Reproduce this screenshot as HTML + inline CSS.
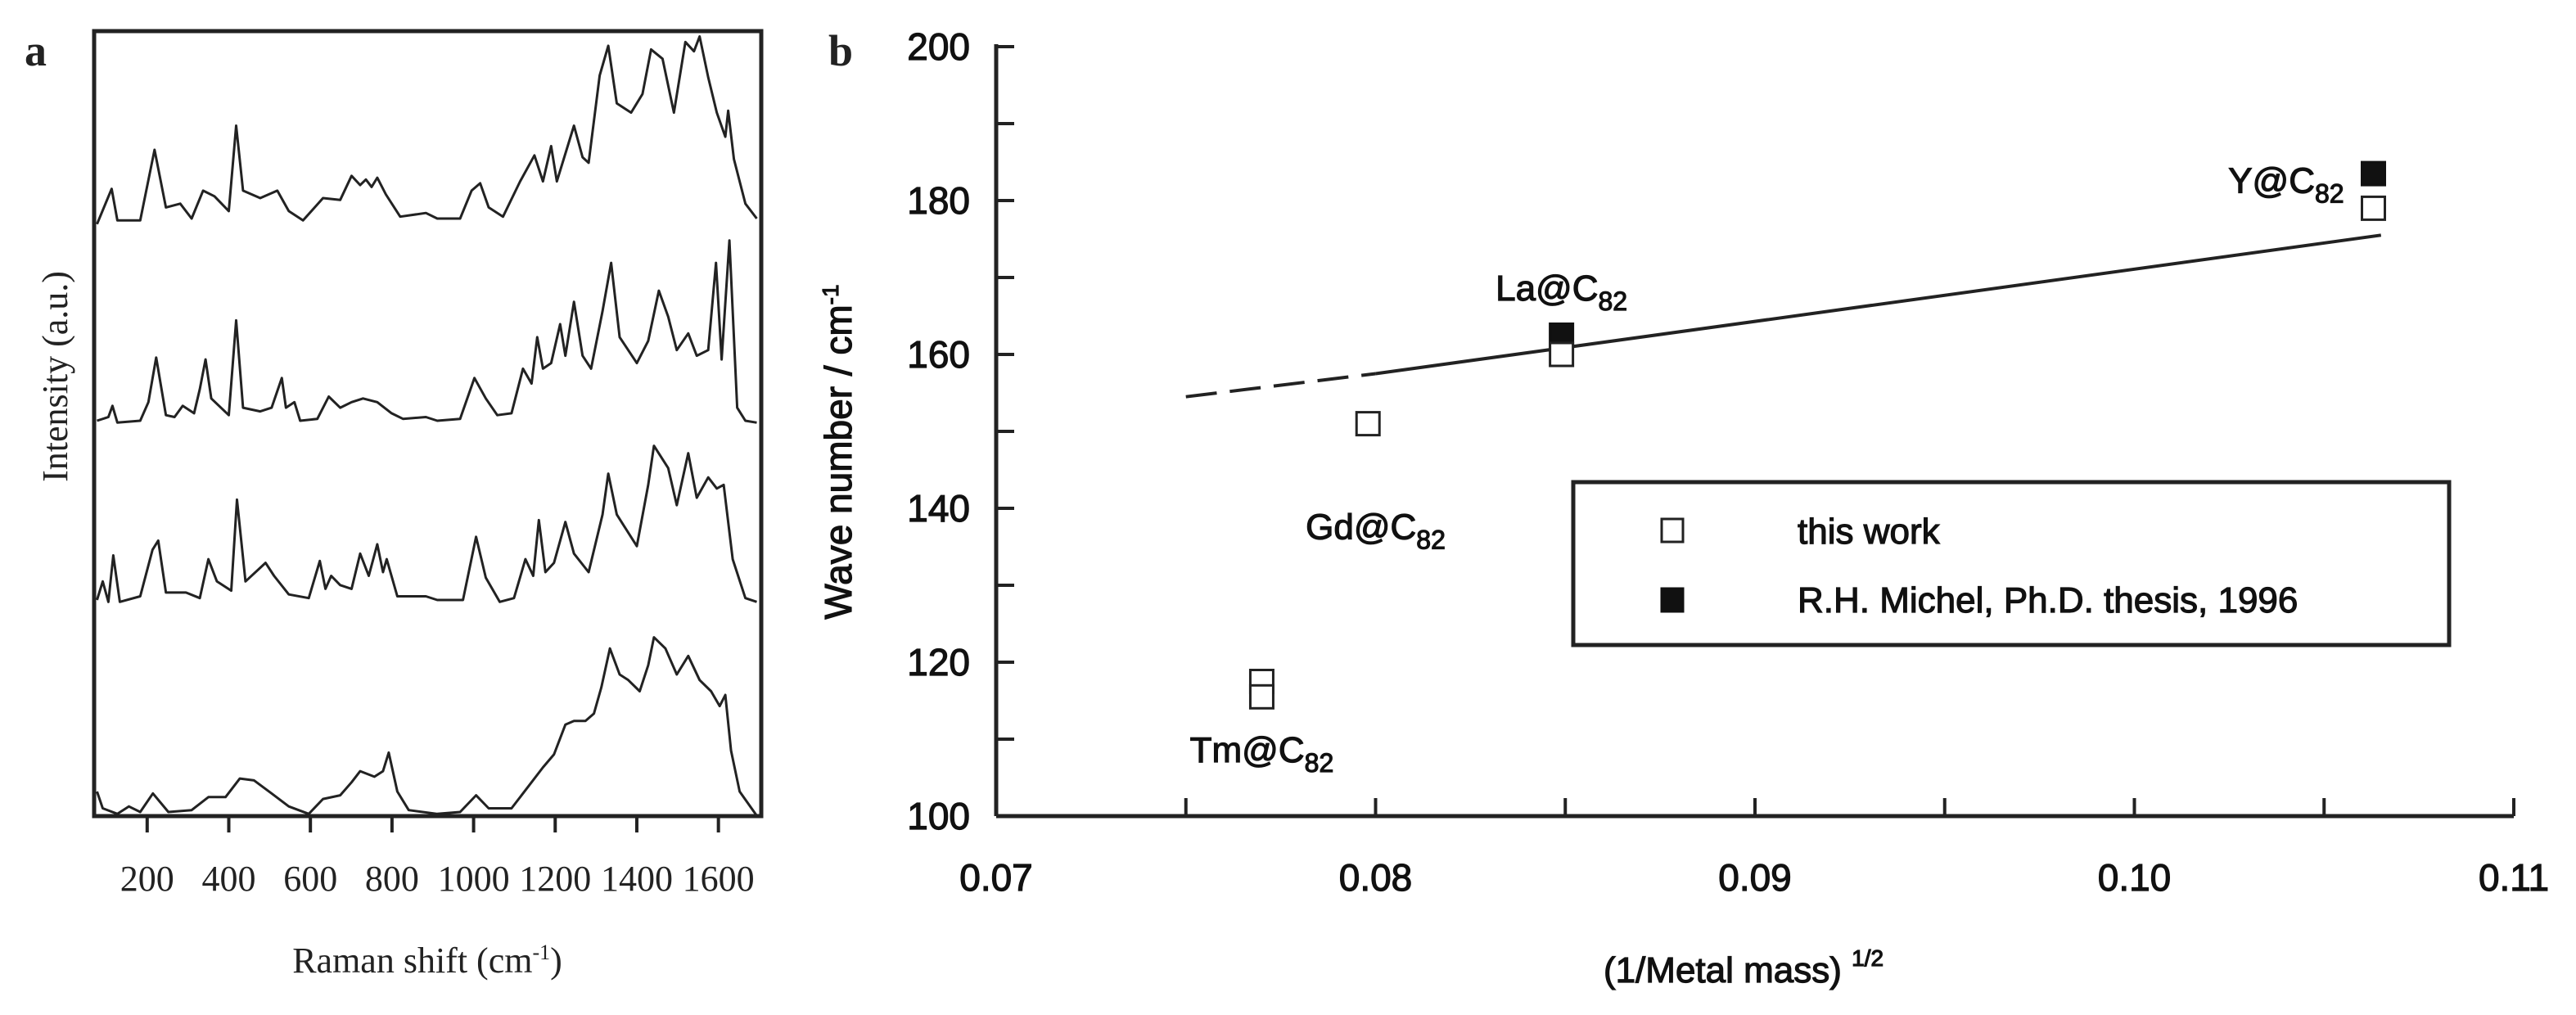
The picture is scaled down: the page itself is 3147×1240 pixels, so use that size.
<!DOCTYPE html>
<html><head><meta charset="utf-8">
<style>
html,body{margin:0;padding:0;background:#fff;}
svg{display:block;}
.serif{font-family:"Liberation Serif",serif;fill:#222;}
.sans{font-family:"Liberation Sans",sans-serif;fill:#111;stroke:#111;stroke-width:1.2px;}
</style></head>
<body>
<svg id="fig" width="3147" height="1240" viewBox="0 0 3147 1240" xmlns="http://www.w3.org/2000/svg">
  <rect width="3147" height="1240" fill="#fff"/>
  <text x="30" y="80" class="serif" font-size="54" font-weight="bold">a</text>
  <text x="1012" y="80" class="serif" font-size="54" font-weight="bold">b</text>
  <g id="panelA"></g>
  <g id="panelB"></g>
</svg>
<script>
// ---------- Panel a data ----------
const aTicks = [200,400,600,800,1000,1200,1400,1600];
const s1x = [77,113,127,183,218,246,281,309,337,365,400,418,435,477,519,547,582,631,673,701,722,736,750,764,785,820,883,911,967,995,1016,1037,1072,1114,1149,1170,1190,1204,1246,1267,1282,1309,1330,1351,1386,1414,1435,1463,1491,1519,1540,1554,1575,1596,1617,1624,1638,1666,1694];
const s1y = [-3,16,-1,-1,37,6,8,0,15,12,4,50,15,11,15,4,-1,11,10,23,18,21,17,22,13,1,3,0,0,15,19,6,1,20,34,20,39,20,50,33,30,77,93,62,57,67,91,86,57,95,90,98,76,57,44,58,32,8,0];
const s2x = [77,105,115,127,183,203,222,246,267,287,315,329,343,357,400,418,435,477,505,530,540,561,575,617,645,673,701,729,764,799,827,883,911,967,1002,1030,1058,1093,1121,1142,1156,1170,1190,1212,1225,1246,1267,1288,1316,1337,1358,1400,1428,1454,1477,1498,1526,1547,1575,1594,1608,1627,1646,1666,1694];
const s2y = [0,2,8,-1,0,10,34,3,2,8,4,17,33,12,3,54,7,5,7,23,7,10,0,1,13,7,10,12,10,4,1,2,0,1,23,12,3,4,28,20,45,28,31,52,35,64,35,28,59,85,45,31,43,70,56,38,47,35,38,85,33,97,7,0,-1];
const s3x = [77,91,105,117,133,183,213,227,246,295,329,350,371,406,420,441,490,511,547,596,623,637,651,673,701,722,743,764,778,787,813,883,911,974,1006,1030,1064,1099,1127,1146,1160,1176,1197,1225,1246,1282,1316,1330,1351,1400,1428,1442,1477,1498,1526,1547,1575,1596,1613,1635,1666,1694];
const s3y = [0,10,-1,24,-1,2,27,32,4,4,1,22,10,5,54,10,20,13,3,1,21,6,13,8,6,25,13,30,15,22,2,2,0,0,34,12,-1,1,22,13,43,15,20,42,25,15,46,68,46,29,62,83,71,51,79,55,66,60,62,22,1,-1];
const s4x = [77,91,127,155,183,214,252,309,350,392,427,462,505,547,596,631,673,701,722,757,778,792,813,841,911,967,1006,1037,1093,1135,1170,1197,1225,1246,1274,1295,1313,1334,1358,1379,1407,1428,1442,1470,1498,1526,1554,1582,1603,1617,1631,1652,1694];
const s4y = [11,2,-1,3,0,10,0,1,8,8,18,17,10,3,-1,7,9,16,22,19,22,32,11,1,-1,0,9,2,2,14,24,31,47,49,49,53,67,88,74,71,65,79,94,88,74,84,71,65,57,63,33,11,-2];

// ---------- Panel b data ----------
const bXTicks = [0.07,0.08,0.09,0.10,0.11];
const bXTickLabels = ["0.07","0.08","0.09","0.10","0.11"];
const bYTicks = [100,120,140,160,180,200];
const openX = [0.0770,0.0770,0.0798,0.0849,0.1063];
const openY = [117.5,115.5,151,160,179];
const filledX = [0.0849,0.1063];
const filledY = [162.5,183.5];
const fitSolidX = [0.0800,0.1065];
const fitSolidY = [157.5,175.5];
const fitDashX = [0.0750,0.0800];
const fitDashY = [154.5,157.5];
const labelNames = ["Tm@C","Gd@C","La@C","Y@C"];
const labelX = [0.0770,0.0800,0.0849,0.1040];
const labelY = [107,136,167,181];

const NS = "http://www.w3.org/2000/svg";
function mk(tag, attrs, parent){const e=document.createElementNS(NS,tag);for(const k in attrs)e.setAttribute(k,attrs[k]);parent.appendChild(e);return e;}

// ---------- Panel a ----------
(function(){
  const g = document.getElementById('panelA');
  const L=115,R=930,T=38,B=997;
  const xA = v => L + (v-70)/(1705-70)*(R-L);
  const baselines=[267,514,733,992];
  const yScale=2.27;
  const box = mk('rect',{x:L,y:T,width:R-L,height:B-T,fill:'none',stroke:'#222','stroke-width':5},g);
  
  
  aTicks.forEach(t=>{
    const tk=mk('line',{x1:xA(t),x2:xA(t),y1:B,y2:B+20,stroke:'#222','stroke-width':4},g);
    
    
    const tl=mk('text',{x:xA(t),y:1088,'text-anchor':'middle','font-size':44,class:'serif'},g);
    tl.textContent=t;
    
    
  });
  const series=[[s1x,s1y],[s2x,s2y],[s3x,s3y],[s4x,s4y]];
  series.forEach((s,i)=>{
    const pts=s[0].map((x,j)=>xA(x).toFixed(1)+','+(baselines[i]-s[1][j]*yScale).toFixed(1)).join(' ');
    const pl=mk('polyline',{points:pts,fill:'none',stroke:'#222','stroke-width':3,'stroke-linejoin':'round'},g);
    
    
  });
  const xt=mk('text',{x:522,y:1188,'text-anchor':'middle','font-size':44,class:'serif'},g);
  xt.innerHTML='Raman shift (cm<tspan dy="-16" font-size="26">-1</tspan><tspan dy="16">)</tspan>';
  
  
  const yt=mk('text',{x:0,y:0,'text-anchor':'middle','font-size':44,class:'serif',transform:'translate(82,460) rotate(-90)'},g);
  yt.textContent='Intensity (a.u.)';
  
  
})();

// ---------- Panel b ----------
(function(){
  const g=document.getElementById('panelB');
  const L=1217,R=3071,T=57,B=997;
  const xB=v=>L+(v-0.07)/0.04*(R-L);
  const yB=v=>B-(v-100)/100*(B-T);
  const ya=mk('line',{x1:L,x2:L,y1:T-3,y2:B,stroke:'#222','stroke-width':5},g);
  
  
  const xa=mk('line',{x1:L,x2:R,y1:B,y2:B,stroke:'#222','stroke-width':5},g);
  
  
  for(let v=100; v<=200; v+=10){
    const tk=mk('line',{x1:L,x2:L+22,y1:yB(v),y2:yB(v),stroke:'#222','stroke-width':4},g);
    
    
  }
  bYTicks.forEach(v=>{
    const tl=mk('text',{x:1185,y:yB(v)+16,'text-anchor':'end','font-size':46,class:'sans'},g);
    tl.textContent=v;
    
    
  });
  for(let v=0.07; v<=0.1101; v+=0.005){
    const tk=mk('line',{x1:xB(v),x2:xB(v),y1:B,y2:B-22,stroke:'#222','stroke-width':4},g);
    
    
  }
  bXTicks.forEach((v,i)=>{
    const tl=mk('text',{x:xB(v),y:1088,'text-anchor':'middle','font-size':46,class:'sans'},g);
    tl.textContent=bXTickLabels[i];
    
    
  });
  const xt=mk('text',{x:2130,y:1200,'text-anchor':'middle','font-size':44,class:'sans'},g);
  xt.innerHTML='(1/Metal mass) <tspan dy="-20" font-size="28">1/2</tspan>';
  
  
  const yt=mk('text',{x:0,y:0,'text-anchor':'middle','font-size':46,class:'sans',transform:'translate(1040,552) rotate(-90)'},g);
  yt.innerHTML='Wave number / cm<tspan dy="-16" font-size="28">-1</tspan>';
  
  
  const fs=mk('line',{x1:xB(fitSolidX[0]),y1:yB(fitSolidY[0]),x2:xB(fitSolidX[1]),y2:yB(fitSolidY[1]),stroke:'#222','stroke-width':4},g);
  
  
  const fd=mk('line',{x1:xB(fitDashX[0]),y1:yB(fitDashY[0]),x2:xB(fitDashX[1]),y2:yB(fitDashY[1]),stroke:'#222','stroke-width':4,'stroke-dasharray':'38,16'},g);
  
  
  const S=28;
  filledX.forEach((x,i)=>{
    const r=mk('rect',{x:xB(x)-S/2,y:yB(filledY[i])-S/2,width:S,height:S,fill:'#111',stroke:'#111','stroke-width':3},g);
    
    
  });
  openX.forEach((x,i)=>{
    const r=mk('rect',{x:xB(x)-S/2,y:yB(openY[i])-S/2,width:S,height:S,fill:'#fff',stroke:'#222','stroke-width':3},g);
    
    
  });
  labelNames.forEach((n,i)=>{
    const t=mk('text',{x:xB(labelX[i]),y:yB(labelY[i]),'text-anchor':'middle','font-size':44,class:'sans'},g);
    t.innerHTML=n+'<tspan dy="12" font-size="32">82</tspan>';
    
    
  });
  const lb=mk('rect',{x:1922,y:589,width:1070,height:199,fill:'#fff',stroke:'#222','stroke-width':5},g);
  
  
  const m1=mk('rect',{x:2030,y:634,width:26,height:28,fill:'#fff',stroke:'#222','stroke-width':3},g);
  
  
  const m2=mk('rect',{x:2030,y:719,width:26,height:28,fill:'#111',stroke:'#111','stroke-width':3},g);
  
  
  const t1=mk('text',{x:2196,y:664,'font-size':44,class:'sans'},g);
  t1.textContent='this work';
  
  
  const t2=mk('text',{x:2196,y:748,'font-size':44,class:'sans'},g);
  t2.textContent='R.H. Michel, Ph.D. thesis, 1996';
  
  
})();
</script>
</body></html>
